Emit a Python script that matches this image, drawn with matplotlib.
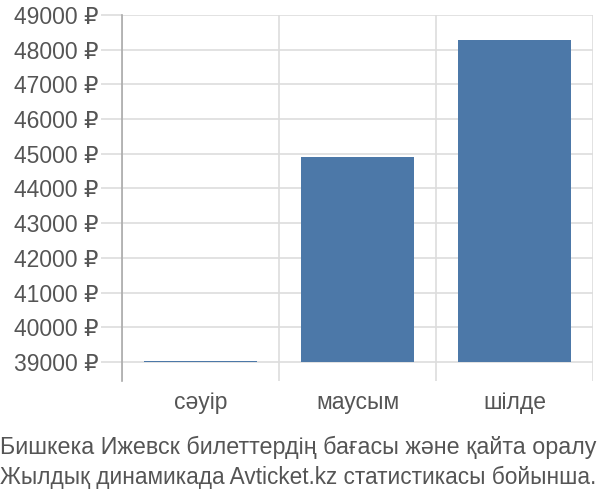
import matplotlib.pyplot as plt

plt.rcParams['font.family'] = ['Liberation Sans', 'DejaVu Sans']

# Veriler
aylar = ['сәуір', 'маусым', 'шілде']
fiyatlar = [39040, 44900, 48270]
y_ticks = list(range(39000, 50000, 1000))
y_labels = [f'{v} ₽' for v in y_ticks]
taban = 39000

fig = plt.figure(figsize=(6, 5), dpi=100)
ax = fig.add_axes([122 / 600, 1 - 381 / 500, 471 / 600, 366 / 500])

x = range(len(aylar))
ax.bar(x, [f - taban for f in fiyatlar], bottom=taban, width=0.72,
       color='#4c78a8', zorder=3)

ax.set_xlim(-0.5, 2.5)
ax.set_ylim(38450, 49000)
ax.set_yticks(y_ticks)
ax.set_yticklabels(y_labels)
ax.set_xticks(x)
ax.set_xticklabels(aylar)

# Izgara çizgileri
ax.set_xticks([-0.5, 0.5, 1.5, 2.5], minor=True)
ax.grid(axis='x', which='minor', color='#dddddd', linewidth=1.2)
ax.grid(axis='y', which='major', color='#dddddd', linewidth=1.2)
ax.tick_params(axis='y', length=15, color='#dddddd', width=1.2,
               labelsize=16.5, labelcolor='#555555', pad=2)
ax.tick_params(axis='x', which='major', length=0, labelsize=16.5,
               labelcolor='#555555', pad=7)
ax.tick_params(axis='x', which='minor', length=0)

for s in ['top', 'right', 'bottom']:
    ax.spines[s].set_visible(False)
ax.spines['left'].set_color('#aaaaaa')
ax.spines['left'].set_linewidth(1.2)

fig.text(0.0, 1 - 447 / 500, 'Бишкека Ижевск билеттердің бағасы және қайта оралу',
         fontsize=16.75, color='#555555', va='center', ha='left')
fig.text(0.0, 1 - 477 / 500, 'Жылдық динамикада Avticket.kz статистикасы бойынша.',
         fontsize=16.3, color='#555555', va='center', ha='left')

fig.savefig('out.png')
